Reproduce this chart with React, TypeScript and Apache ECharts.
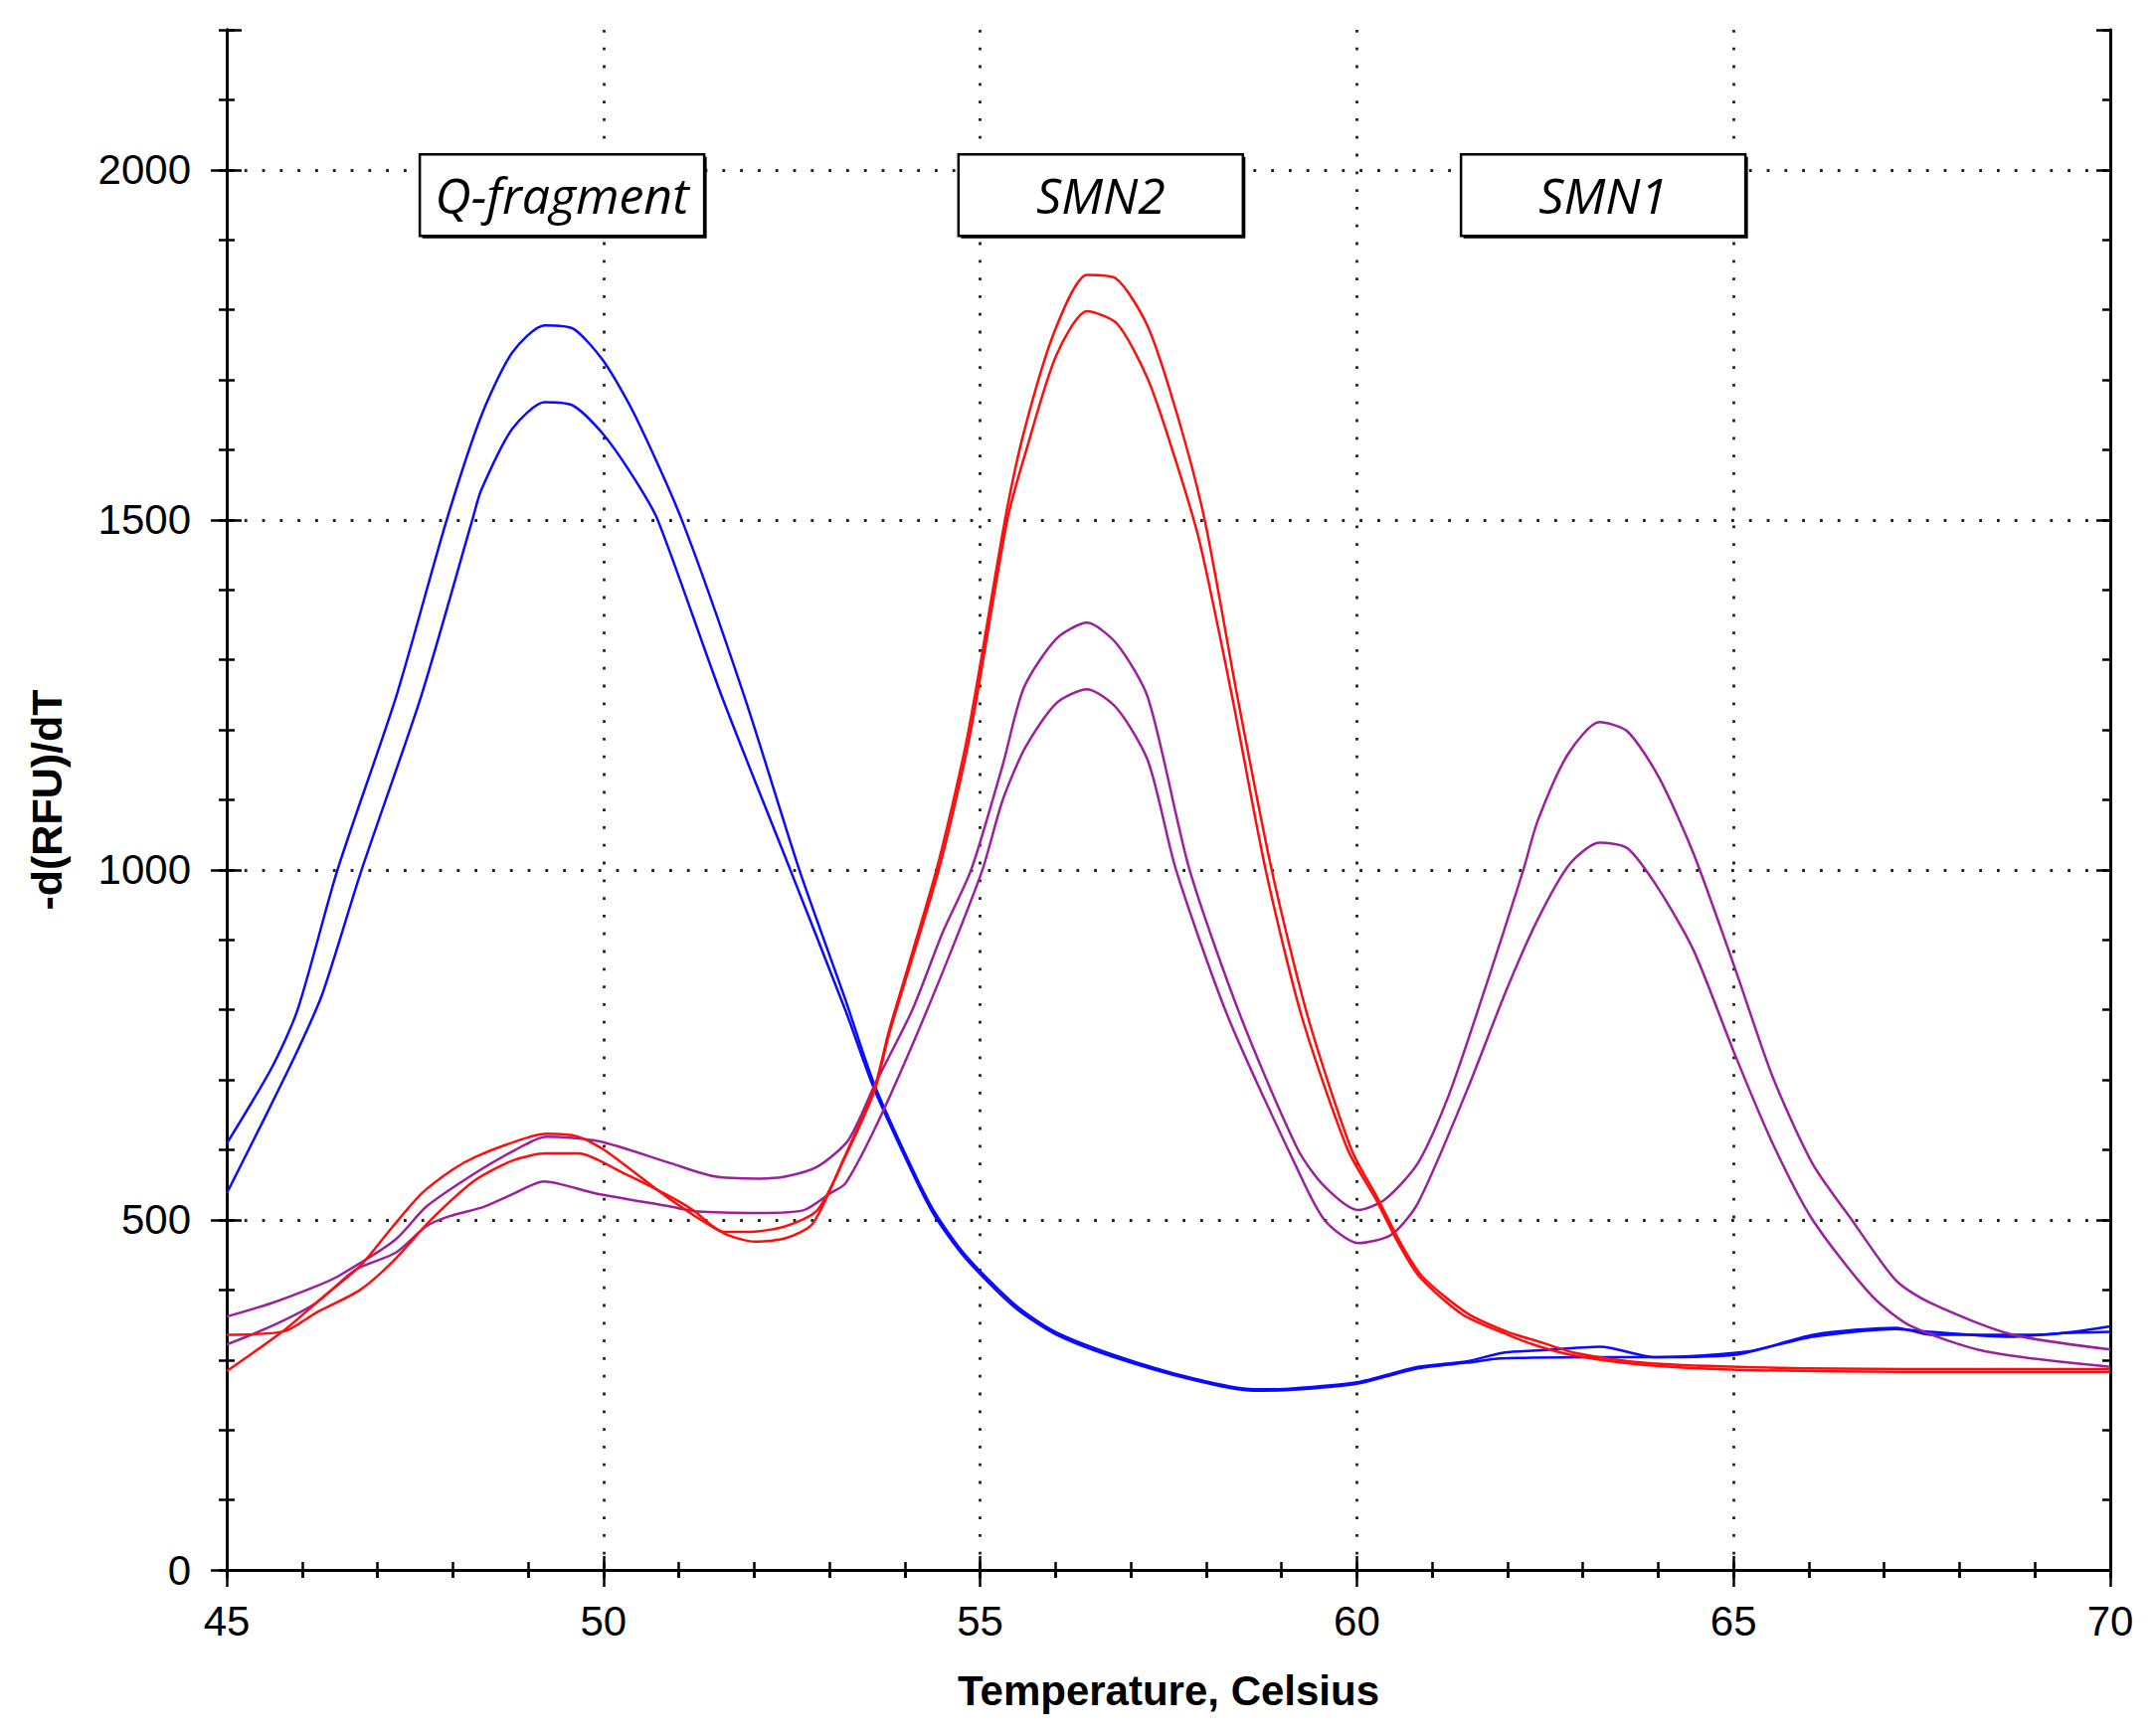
import React, { useEffect, useRef } from "react";
import * as echarts from "echarts";

// ---- axis ranges & tick labels ----
const X_MIN = 45;
const X_MAX = 70;
const Y_MIN = 0;
const Y_MAX = 2200;
const X_MAJOR = 5;
const Y_MAJOR = 500;

// ---- series: [temperature, -d(RFU)/dT] ----
const blueA: [number, number][] = [
  [45.0, 609], [45.6, 718], [45.94, 800], [46.47, 1000], [47.25, 1248], [47.92, 1500],
  [48.38, 1649], [48.79, 1739], [49.22, 1778], [49.6, 1773], [50.0, 1727], [50.41, 1651],
  [51.04, 1500], [51.87, 1248], [52.6, 1000], [53.21, 815], [53.59, 695], [54.09, 575],
  [54.39, 512], [54.8, 450], [55.45, 380], [55.98, 341], [56.75, 308], [57.81, 274],
  [58.63, 258], [59.1, 259], [60.0, 268], [60.81, 290], [61.46, 298], [61.93, 310],
  [62.45, 314], [63.23, 319], [63.96, 304], [65.06, 308], [66.06, 336], [67.16, 346],
  [67.61, 336], [69.07, 336], [70.0, 348],
];
const blueB: [number, number][] = [
  [45.0, 538], [45.5, 645], [45.94, 742], [46.27, 823], [46.79, 1000], [47.58, 1248],
  [48.26, 1500], [48.38, 1543], [48.79, 1630], [49.22, 1668], [49.6, 1663], [50.0, 1622],
  [50.41, 1559], [50.72, 1500], [51.57, 1248], [52.48, 1000], [53.21, 800], [53.59, 688],
  [54.09, 570], [54.39, 507], [54.8, 446], [55.45, 376], [55.98, 338], [56.75, 305],
  [57.81, 272], [58.63, 256], [59.1, 257], [60.0, 266], [60.81, 288], [61.46, 296],
  [61.91, 302], [63.22, 304], [64.01, 304], [65.19, 312], [66.05, 333], [67.16, 344],
  [67.62, 340], [68.67, 333], [69.33, 338], [70.0, 340],
];
const redA: [number, number][] = [
  [45.0, 284], [45.77, 343], [46.3, 392], [46.77, 434], [47.2, 490], [47.59, 538],
  [48.0, 572], [48.3, 590], [48.83, 612], [49.24, 623], [49.66, 619], [50.01, 600],
  [50.89, 529], [51.6, 481], [52.01, 469], [52.42, 474], [52.78, 495], [53.2, 590],
  [53.6, 690], [53.79, 770], [54.42, 1000], [54.83, 1190], [55.33, 1500], [55.58, 1625],
  [55.99, 1770], [56.42, 1850], [56.8, 1845], [57.23, 1775], [57.63, 1645], [57.98, 1500],
  [58.41, 1250], [58.87, 1000], [59.35, 790], [59.93, 600], [60.28, 530], [60.58, 467],
  [60.87, 419], [61.46, 367], [62.0, 340], [62.45, 325], [62.9, 310], [63.8, 296],
  [65.06, 290], [67.25, 287], [70.0, 287],
];
const redB: [number, number][] = [
  [45.0, 336], [45.77, 341], [46.18, 367], [46.77, 400], [47.2, 440], [47.71, 500],
  [48.3, 557], [48.8, 585], [49.24, 595], [49.66, 595], [50.3, 565], [50.89, 533],
  [51.19, 514], [51.6, 483], [51.95, 483], [52.42, 491], [52.84, 514], [53.2, 588],
  [53.6, 685], [53.79, 765], [54.45, 1000], [54.86, 1190], [55.36, 1500], [55.6, 1595],
  [56.01, 1735], [56.42, 1798], [56.82, 1780], [57.23, 1700], [57.58, 1590], [57.91, 1470],
  [58.34, 1250], [58.79, 1000], [59.27, 790], [59.88, 600], [60.25, 530], [60.55, 467],
  [60.83, 419], [61.4, 365], [62.0, 336], [62.4, 320], [62.9, 306], [63.8, 293],
  [65.06, 286], [67.25, 283], [70.0, 283],
];
const purpleA: [number, number][] = [
  [45.0, 362], [45.59, 381], [46.18, 405], [46.47, 419], [47.24, 472], [47.65, 519],
  [48.3, 567], [48.83, 600], [49.24, 619], [49.95, 612], [50.89, 581], [51.48, 562],
  [52.07, 559], [52.42, 562], [52.84, 576], [53.25, 614], [53.61, 695], [54.1, 800],
  [54.5, 910], [54.88, 1000], [55.3, 1150], [55.58, 1260], [56.01, 1330], [56.42, 1353],
  [56.82, 1322], [57.23, 1245], [57.78, 1000], [58.46, 790], [59.22, 600], [59.57, 548],
  [60.02, 514], [60.37, 529], [60.81, 581], [61.22, 678], [61.78, 856],
  [62.21, 1000], [62.4, 1070], [62.8, 1165], [63.22, 1211], [63.59, 1198], [64.01, 1132],
  [64.47, 1023], [65.03, 856], [65.52, 704], [66.05, 580], [66.57, 500], [67.16, 413],
  [67.62, 381], [68.67, 337], [70.0, 315],
];
const purpleB: [number, number][] = [
  [45.0, 322], [45.59, 348], [46.18, 381], [46.71, 429], [47.24, 453], [47.65, 491],
  [47.95, 505], [48.42, 519], [48.8, 537], [49.21, 555], [49.89, 538], [50.89, 519],
  [51.25, 512], [52.07, 510], [52.66, 514], [53.01, 538], [53.21, 552], [53.6, 630],
  [54.1, 750], [54.6, 880], [55.03, 1000], [55.3, 1100], [55.6, 1175], [56.01, 1238],
  [56.42, 1258], [56.82, 1230], [57.23, 1155], [57.6, 1000], [58.29, 790],
  [59.2, 575], [59.57, 500], [60.02, 467], [60.46, 479], [60.81, 524], [61.45, 682],
  [61.98, 827], [62.4, 929], [62.83, 1009], [63.22, 1039], [63.59, 1031], [64.01, 972],
  [64.47, 885], [65.03, 733], [65.52, 609], [66.05, 500], [66.84, 391], [67.36, 348],
  [68.35, 312], [70.0, 290],
];

// ---- peak annotations (data coordinates of box centres) ----
const PEAK_NAMES = ["Q-fragment", "SMN2", "SMN1"];
const PEAK_TEMPS = [49.45, 56.6, 63.27];
const PEAK_LEVEL = 1964;

const BLUE = "#0a0aff";
const RED = "#ff0d0d";
const PURPLE = "#9c1f9c";
const FONT = "'Liberation Sans', Arial, sans-serif";

export default function App() {
  const ref = useRef<HTMLDivElement>(null);

  useEffect(() => {
    if (!ref.current) return;
    const chart = echarts.init(ref.current, undefined, { renderer: "svg" });

    const axisLine = { show: true, lineStyle: { color: "#000", width: 3 } };
    const tickStyle = { color: "#000", width: 2.5 };
    const dotted = { color: "#222", width: 2.8, type: [2.8, 15] as number[] };
    const noLabel = { show: false };
    const noSplit = { show: false };

    const xBase = { type: "value" as const, min: X_MIN, max: X_MAX };
    const yBase = { type: "value" as const, min: Y_MIN, max: Y_MAX };

    const series = [
      { data: blueA, color: BLUE },
      { data: blueB, color: BLUE },
      { data: purpleA, color: PURPLE },
      { data: purpleB, color: PURPLE },
      { data: redA, color: RED },
      { data: redB, color: RED },
    ].map((s) => ({
      type: "line",
      data: s.data,
      symbol: "none",
      smooth: 0.25,
      clip: true,
      lineStyle: { color: s.color, width: 2.5 },
      itemStyle: { color: s.color },
      z: 5,
    }));

    chart.setOption({
      animation: false,
      backgroundColor: "#fff",
      grid: { left: 228, right: 46, top: 30, bottom: 165, containLabel: false, outerBoundsMode: "none" },
      xAxis: [
        {
          ...xBase,
          position: "bottom",
          interval: X_MAJOR,
          axisLine,
          axisTick: { show: true, length: 17, lineStyle: tickStyle },
          axisLabel: { fontSize: 42, fontFamily: FONT, color: "#000", margin: 30 },
          splitLine: { show: true, lineStyle: dotted },
          name: "Temperature, Celsius",
          nameLocation: "middle",
          nameGap: 100,
          nameTextStyle: { fontSize: 42, fontWeight: "bold", fontFamily: FONT, color: "#000" },
        },
        { ...xBase, position: "bottom", interval: X_MAJOR, axisLine, axisTick: { show: true, inside: true, length: 14, lineStyle: tickStyle }, axisLabel: noLabel, splitLine: noSplit },
        { ...xBase, position: "bottom", interval: 1, axisLine, axisTick: { show: true, length: 8, lineStyle: tickStyle }, axisLabel: noLabel, splitLine: noSplit },
        { ...xBase, position: "bottom", interval: 1, axisLine, axisTick: { show: true, inside: true, length: 8, lineStyle: tickStyle }, axisLabel: noLabel, splitLine: noSplit },
        { ...xBase, position: "top", interval: 1, axisLine, axisTick: { show: true, inside: true, length: 8, lineStyle: tickStyle }, axisLabel: noLabel, splitLine: noSplit },
      ],
      yAxis: [
        {
          ...yBase,
          position: "left",
          interval: Y_MAJOR,
          axisLine,
          axisTick: { show: true, length: 16, lineStyle: tickStyle, customValues: [0, 500, 1000, 1500, 2000] },
          axisLabel: {
            fontSize: 42,
            fontFamily: FONT,
            color: "#000",
            margin: 36,
            showMaxLabel: false,
            formatter: (v: number) => (v % Y_MAJOR === 0 ? String(v) : ""),
          },
          splitLine: { show: true, lineStyle: dotted },
          name: "-d(RFU)/dT",
          nameLocation: "middle",
          nameGap: 160,
          nameTextStyle: { fontSize: 43, fontWeight: "bold", fontFamily: FONT, color: "#000" },
        },
        { ...yBase, position: "left", interval: Y_MAJOR, axisLine, axisTick: { show: true, inside: true, length: 15, lineStyle: tickStyle }, axisLabel: noLabel, splitLine: noSplit },
        { ...yBase, position: "left", interval: 100, axisLine, axisTick: { show: true, length: 8, lineStyle: tickStyle }, axisLabel: noLabel, splitLine: noSplit },
        { ...yBase, position: "left", interval: 100, axisLine, axisTick: { show: true, inside: true, length: 8, lineStyle: tickStyle }, axisLabel: noLabel, splitLine: noSplit },
        { ...yBase, position: "right", interval: 100, axisLine, axisTick: { show: true, inside: true, length: 8, lineStyle: tickStyle }, axisLabel: noLabel, splitLine: noSplit },
        { ...yBase, position: "right", interval: Y_MAJOR, axisLine, axisTick: { show: true, inside: true, length: 14, lineStyle: tickStyle }, axisLabel: noLabel, splitLine: noSplit },
      ],
      series,
    });

    // peak label boxes placed in data coordinates
    const BOX_W = 286;
    const BOX_H = 82;
    const boxes = PEAK_NAMES.map((name, i) => {
      const p = chart.convertToPixel({ xAxisIndex: 0, yAxisIndex: 0 }, [PEAK_TEMPS[i], PEAK_LEVEL]) as number[];
      const cx = p[0];
      const cy = p[1];
      return {
        type: "group",
        z: 20,
        children: [
          { type: "rect", shape: { x: cx - BOX_W / 2 + 2.5, y: cy - BOX_H / 2 + 2.5, width: BOX_W, height: BOX_H }, style: { fill: "#000" }, z: 20 },
          { type: "rect", shape: { x: cx - BOX_W / 2, y: cy - BOX_H / 2, width: BOX_W, height: BOX_H }, style: { fill: "#fff", stroke: "#000", lineWidth: 2.5 }, z: 21 },
          {
            type: "text",
            x: cx,
            y: cy,
            z: 22,
            style: {
              text: name,
              fontSize: 50,
              fontFamily: "'Open Sans', 'Noto Sans', sans-serif",
              fontStyle: "italic",
              fill: "#000",
              align: "center",
              verticalAlign: "middle",
            },
          },
        ],
      };
    });
    chart.setOption({ graphic: boxes });

    return () => chart.dispose();
  }, []);

  return (
    <div
      ref={ref}
      style={{ position: "absolute", left: 0, top: 0, width: 2168, height: 1744, background: "#fff" }}
    />
  );
}
